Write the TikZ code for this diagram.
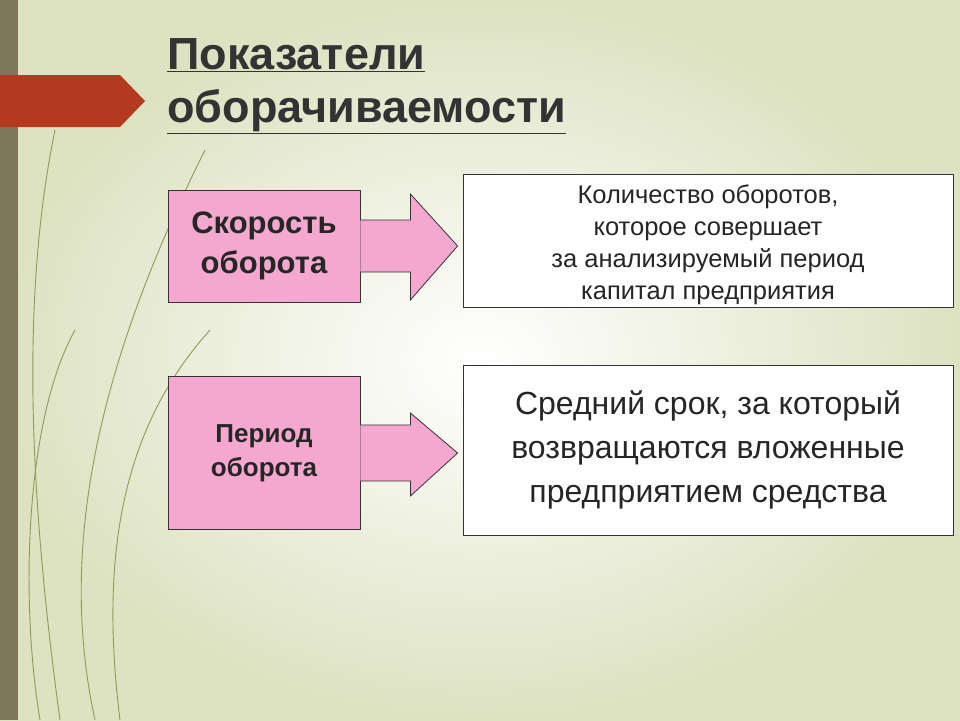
\documentclass[tikz,border=0pt]{standalone}
\usepackage{fontspec}
\setmainfont{Liberation Sans}
\usetikzlibrary{calc}
\definecolor{bgedge}{HTML}{DDE2C2}
\definecolor{pinkf}{HTML}{F4A8D0}
\definecolor{banner}{HTML}{B33A1E}
\definecolor{strip}{HTML}{7E775C}
\definecolor{grass}{HTML}{8C9A5A}
\tikzset{
  pinkbox/.style={draw=black!80, line width=0.8pt, fill=pinkf, minimum width=192pt, align=center, font=\bfseries, text=black!85},
  whitebox/.style={draw=black!80, line width=0.8pt, fill=white, minimum width=490pt, align=center, text=black!85},
  blockarrow/.style={draw=black!80, line width=0.8pt, fill=pinkf},
  grassline/.style={draw=grass, line width=0.9pt}
}
\begin{document}
\begin{tikzpicture}[x=1pt,y=-1pt]
\useasboundingbox (0,0) rectangle (960,720);
\shade[inner color=white, outer color=bgedge] (0,0) rectangle (960,720);
\fill[strip] (0,0) rectangle (18,720);
\fill[banner] (0,75) -- (120,75) -- (145,101) -- (120,127) -- (0,127) -- cycle;
% decorative lines
\draw[grassline] (60,720) .. controls (30,500) and (20,300) .. (55,130);
\draw[grassline] (95,720) .. controls (60,560) and (90,380) .. (205,150);
\draw[grassline] (120,720) .. controls (100,560) and (120,430) .. (210,330);
\draw[grassline] (40,720) .. controls (20,600) and (25,420) .. (75,330);
% title
\node[anchor=north west, align=left, font=\bfseries\fontsize{45}{53}\selectfont, text=black!80, inner sep=0pt] (title) at (167,38)
  {\underline{Показатели}\\\underline{оборачиваемости}};
% boxes
\node[pinkbox, minimum height=112pt, font=\bfseries\fontsize{31}{40}\selectfont] (s) at (264,246) {Скорость\\оборота};
\node[pinkbox, minimum height=153pt, font=\bfseries\fontsize{26}{34}\selectfont] (p) at (264,453) {Период\\оборота};
\node[whitebox, minimum height=133pt] (w1) at (708,241) {};
\node[align=center, font=\fontsize{25.5}{32}\selectfont, text=black!85] (w1t) at (708,245)
  {Количество оборотов,\\которое совершает\\за анализируемый период\\капитал предприятия};
\node[whitebox, minimum height=170pt, font=\fontsize{32}{44}\selectfont] (w2) at (708,450)
  {Средний срок, за который\\возвращаются вложенные\\предприятием средства};
% arrows
\draw[blockarrow] ($(s.east)+(0,-26)$) -- ++(50,0) -- ++(0,-26) -- ($(w1.west)+(-5,5)$) -- ($(s.east)+(50,54)$) -- ++(0,-28) -- ($(s.east)+(0,26)$);
\draw[blockarrow] ($(p.east)+(0,-28)$) -- ++(50,0) -- ++(0,-12) -- ($(w2.west)+(-5,3)$) -- ($(p.east)+(50,43)$) -- ++(0,-15) -- ($(p.east)+(0,28)$);
\end{tikzpicture}
\end{document}
